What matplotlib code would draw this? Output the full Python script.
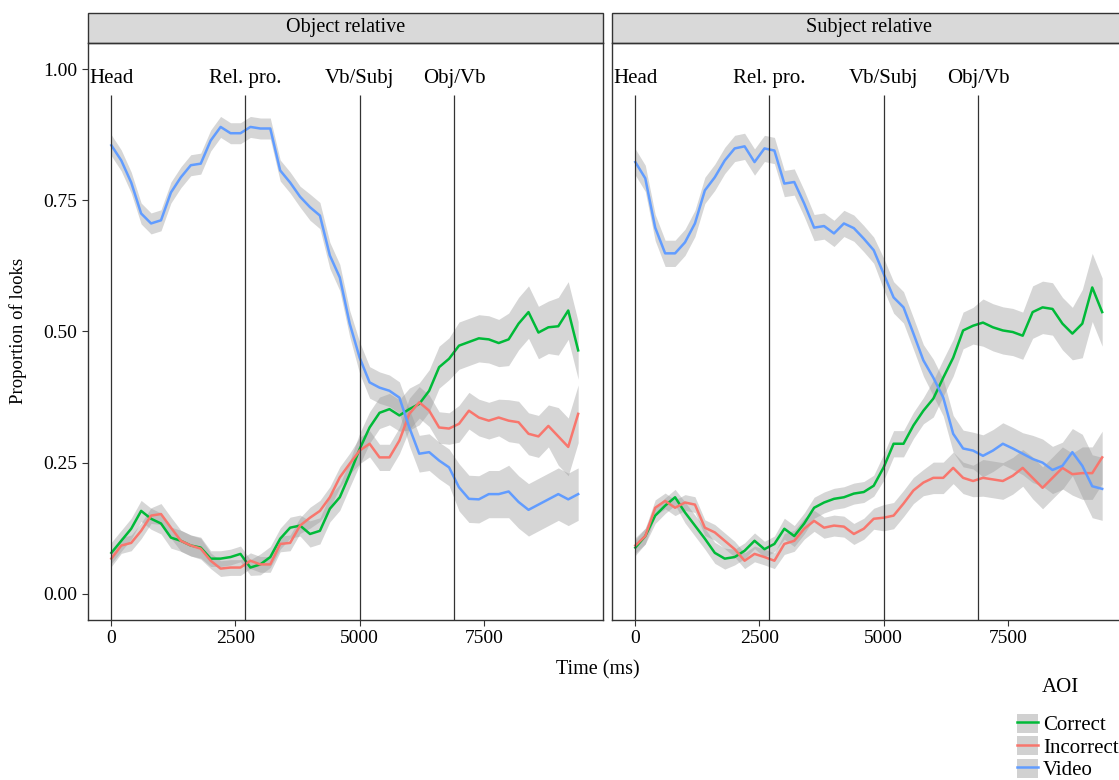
import matplotlib
matplotlib.use("Agg")
import matplotlib.pyplot as plt
from matplotlib.patches import Patch, Rectangle
from matplotlib.lines import Line2D
import numpy as np

plt.rcParams['font.family'] = ['Liberation Serif', 'DejaVu Serif']
plt.rcParams['font.size'] = 14

# time grid (ms)
time_ms = np.arange(0, 9401, 200)

# --- Object relative ---
obj_correct = [0.078, 0.101, 0.124, 0.158, 0.143, 0.134, 0.107, 0.101, 0.092, 0.088,
               0.067, 0.067, 0.070, 0.076, 0.050, 0.056, 0.070, 0.105, 0.126, 0.130,
               0.114, 0.120, 0.162, 0.184, 0.228, 0.276, 0.317, 0.345, 0.352, 0.340,
               0.352, 0.362, 0.387, 0.432, 0.448, 0.473, 0.480, 0.487, 0.485, 0.478,
               0.485, 0.515, 0.537, 0.498, 0.508, 0.510, 0.540, 0.464]
obj_incorrect = [0.067, 0.092, 0.097, 0.120, 0.149, 0.152, 0.126, 0.101, 0.092, 0.086,
                 0.063, 0.048, 0.050, 0.050, 0.063, 0.056, 0.056, 0.095, 0.097, 0.130,
                 0.145, 0.158, 0.184, 0.222, 0.248, 0.273, 0.286, 0.260, 0.260, 0.292,
                 0.343, 0.365, 0.349, 0.317, 0.315, 0.324, 0.349, 0.336, 0.330, 0.336,
                 0.330, 0.327, 0.305, 0.300, 0.320, 0.300, 0.280, 0.343]
obj_video = [0.855, 0.826, 0.784, 0.725, 0.706, 0.712, 0.765, 0.794, 0.817, 0.820,
             0.864, 0.890, 0.878, 0.878, 0.890, 0.887, 0.887, 0.807, 0.784, 0.757,
             0.737, 0.721, 0.645, 0.603, 0.515, 0.450, 0.403, 0.393, 0.387, 0.374,
             0.317, 0.267, 0.270, 0.254, 0.241, 0.203, 0.181, 0.180, 0.190, 0.190,
             0.195, 0.175, 0.160, 0.170, 0.180, 0.190, 0.180, 0.190]

# --- Subject relative ---
subj_correct = [0.088, 0.110, 0.149, 0.168, 0.184, 0.155, 0.130, 0.105, 0.078, 0.067,
                0.070, 0.082, 0.101, 0.085, 0.095, 0.124, 0.110, 0.134, 0.164, 0.174,
                0.181, 0.184, 0.191, 0.194, 0.206, 0.241, 0.286, 0.286, 0.321, 0.349,
                0.372, 0.412, 0.450, 0.502, 0.511, 0.517, 0.508, 0.502, 0.499, 0.492,
                0.537, 0.546, 0.543, 0.515, 0.496, 0.515, 0.584, 0.537]
subj_incorrect = [0.092, 0.110, 0.164, 0.177, 0.164, 0.174, 0.170, 0.126, 0.117, 0.101,
                  0.085, 0.063, 0.076, 0.070, 0.063, 0.095, 0.101, 0.124, 0.139, 0.126,
                  0.130, 0.128, 0.114, 0.124, 0.143, 0.145, 0.149, 0.172, 0.197, 0.212,
                  0.221, 0.221, 0.240, 0.221, 0.215, 0.221, 0.218, 0.215, 0.225, 0.240,
                  0.221, 0.202, 0.221, 0.240, 0.228, 0.230, 0.230, 0.260]
subj_video = [0.823, 0.792, 0.698, 0.649, 0.649, 0.670, 0.706, 0.769, 0.794, 0.826,
              0.849, 0.853, 0.823, 0.849, 0.845, 0.782, 0.785, 0.744, 0.698, 0.701,
              0.687, 0.706, 0.697, 0.677, 0.655, 0.610, 0.565, 0.546, 0.496, 0.445,
              0.412, 0.374, 0.305, 0.277, 0.273, 0.263, 0.273, 0.286, 0.277, 0.267,
              0.257, 0.250, 0.236, 0.244, 0.270, 0.244, 0.205, 0.200]

# ribbon half-widths, one per 1000 ms block
obj_ci_correct = [0.02, 0.02, 0.015, 0.02, 0.025, 0.03, 0.04, 0.045, 0.05, 0.055]
obj_ci_incorrect = [0.015, 0.02, 0.015, 0.015, 0.02, 0.025, 0.03, 0.035, 0.04, 0.055]
obj_ci_video = [0.02, 0.02, 0.02, 0.02, 0.025, 0.03, 0.035, 0.045, 0.05, 0.05]
subj_ci_correct = [0.015, 0.02, 0.015, 0.02, 0.02, 0.025, 0.035, 0.045, 0.05, 0.065]
subj_ci_incorrect = [0.015, 0.015, 0.015, 0.02, 0.02, 0.025, 0.03, 0.035, 0.04, 0.05]
subj_ci_video = [0.025, 0.025, 0.025, 0.025, 0.025, 0.03, 0.035, 0.04, 0.045, 0.06]

aoi_labels = ['Correct', 'Incorrect', 'Video']
aoi_colors = ['#00BA38', '#F8766D', '#619CFF']
panel_titles = ['Object relative', 'Subject relative']
region_times = [0, 2700, 5000, 6900]
region_labels = ['Head', 'Rel. pro.', 'Vb/Subj', 'Obj/Vb']

panels = [
    [obj_correct, obj_incorrect, obj_video],
    [subj_correct, subj_incorrect, subj_video],
]
panel_cis = [
    [obj_ci_correct, obj_ci_incorrect, obj_ci_video],
    [subj_ci_correct, subj_ci_incorrect, subj_ci_video],
]

W, H = 1119, 780
fig = plt.figure(figsize=(W / 100, H / 100), dpi=100)

ax_lefts = [88, 612]
ax_w = 515
top, bottom = 43, 620
strip_h = 30

for i in range(2):
    ax = fig.add_axes([ax_lefts[i] / W, 1 - bottom / H, ax_w / W, (bottom - top) / H])
    for vals, cis, col in zip(panels[i], panel_cis[i], aoi_colors):
        y = np.array(vals)
        hw = np.repeat(cis, 5)[:len(y)]
        ax.fill_between(time_ms, y - hw, y + hw, color='#999999', alpha=0.4, linewidth=0)
        ax.plot(time_ms, y, color=col, lw=1.8)

    # region boundaries + labels
    ax.vlines(region_times, -0.05, 0.95, color='#333333', lw=0.9)
    for t, lab in zip(region_times, region_labels):
        ax.text(t, 0.982, lab, ha='center', va='center', fontsize=15)

    ax.set_xlim(-470, 9900)
    ax.set_ylim(-0.05, 1.05)
    ax.set_xticks([0, 2500, 5000, 7500])
    ax.set_xticklabels(['0', '2500', '5000', '7500'])
    ax.set_yticks([0, 0.25, 0.5, 0.75, 1.0])
    if i == 0:
        ax.set_yticklabels(['0.00', '0.25', '0.50', '0.75', '1.00'])
    else:
        ax.tick_params(axis='y', left=False, labelleft=False)
    ax.tick_params(length=4, width=0.8, color='#333333', labelsize=14, labelcolor='black')
    for s in ax.spines.values():
        s.set_color('#333333')
        s.set_linewidth(1.0)

    # facet strip
    sh = strip_h / (bottom - top)
    ax.add_patch(Rectangle((0, 1), 1, sh, transform=ax.transAxes, facecolor='#D9D9D9',
                           edgecolor='#333333', lw=1.0, clip_on=False))
    ax.text(0.5, 1 + sh / 2, panel_titles[i], transform=ax.transAxes,
            ha='center', va='center', fontsize=14.5)

fig.text(18 / W, 1 - 331 / H, 'Proportion of looks', rotation=90,
         ha='center', va='center', fontsize=13.5)
fig.text(598 / W, 1 - 670 / H, 'Time (ms)', ha='center', va='center', fontsize=14.5)

# legend: title drawn separately so the gap matches
fig.text(1060 / W, 1 - 688 / H, 'AOI', ha='center', va='center', fontsize=15)
handles = [(Patch(facecolor='#999999', alpha=0.45, edgecolor='none'),
            Line2D([], [], color=c, lw=1.8)) for c in aoi_colors]
fig.legend(handles, aoi_labels, loc='upper left',
           bbox_to_anchor=(1017 / W, 1 - 714 / H), frameon=False,
           fontsize=15, handlelength=1.0, handleheight=1.0,
           handletextpad=0.25, labelspacing=0.05, borderpad=0, borderaxespad=0)

fig.savefig('out.png', dpi=100)
